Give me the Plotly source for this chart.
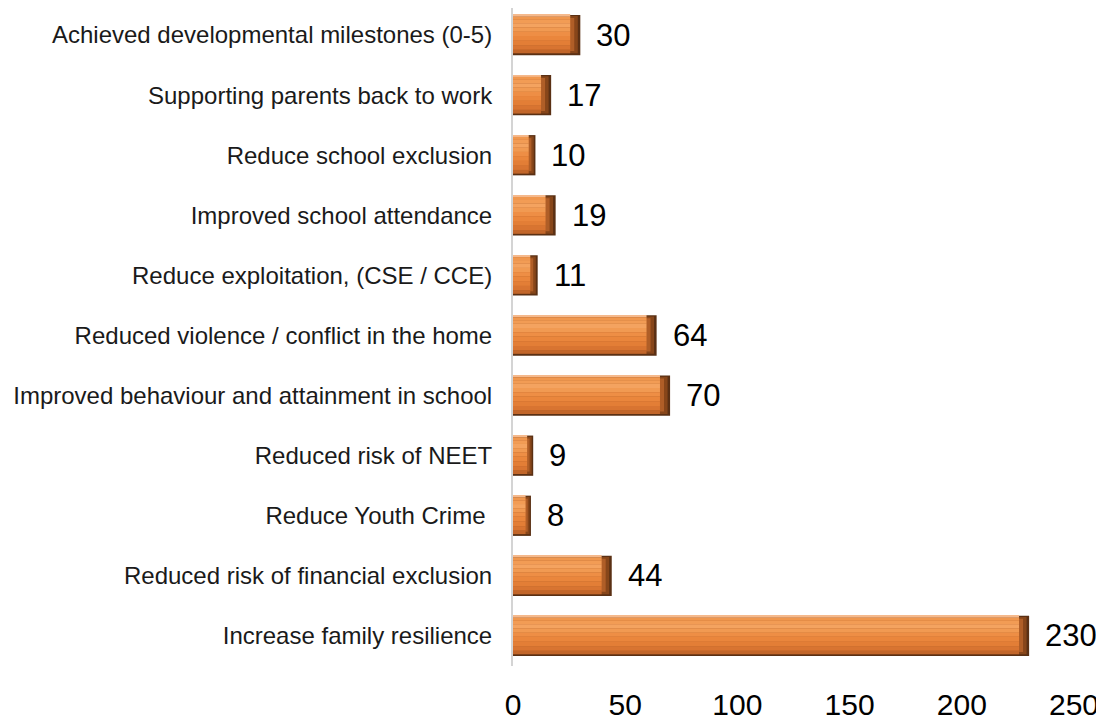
import plotly.graph_objects as go

categories = [
    "Achieved developmental milestones (0-5)",
    "Supporting parents back to work",
    "Reduce school exclusion",
    "Improved school attendance",
    "Reduce exploitation, (CSE / CCE)",
    "Reduced violence / conflict in the home",
    "Improved behaviour and attainment in school",
    "Reduced risk of NEET",
    "Reduce Youth Crime\u00a0",
    "Reduced risk of financial exclusion",
    "Increase family resilience",
]
values = [30, 17, 10, 19, 11, 64, 70, 9, 8, 44, 230]
x_ticks = [0, 50, 100, 150, 200, 250]

FONT = "Liberation Sans, Arial, sans-serif"

# bevel styling (thickness in category units, from the bar's top edge downward)
BAR_W = 0.67
TOP = -BAR_W / 2
bands = [  # (thickness, colour)
    (0.03, "#F5B98C"),
    (0.05, "#F0974E"),
    (0.06, "#F29C55"),
    (0.07, "#F4A360"),
    (0.07, "#F19A52"),
    (0.07, "#EE8E45"),
    (0.08, "#EA863C"),
    (0.08, "#E37E36"),
    (0.07, "#D87431"),
    (0.06, "#C2662A"),
]
inset = [min(4.5, v * 0.3) for v in values]

fig = go.Figure()
# darkest outline / bottom edge
fig.add_trace(go.Bar(y=categories, x=values, orientation="h", width=BAR_W, offset=TOP,
                     marker=dict(color="#5A3014", line=dict(width=0)), hoverinfo="skip"))
# right bevel, two tones
fig.add_trace(go.Bar(y=categories, x=[v - 0.25 * i for v, i in zip(values, inset)],
                     orientation="h", width=BAR_W - 0.05, offset=TOP + 0.02,
                     marker=dict(color="#87461A", line=dict(width=0)), hoverinfo="skip"))
fig.add_trace(go.Bar(y=categories, x=[v - 0.6 * i for v, i in zip(values, inset)],
                     orientation="h", width=BAR_W - 0.12, offset=TOP + 0.05,
                     marker=dict(color="#B05E27", line=dict(width=0)), hoverinfo="skip"))
# gradient bands of the body
off = TOP
for thick, col in bands:
    fig.add_trace(go.Bar(y=categories, x=[v - i for v, i in zip(values, inset)],
                         orientation="h", width=thick, offset=off,
                         marker=dict(color=col, line=dict(width=0)), hoverinfo="skip"))
    off += thick

for c, v in zip(categories, values):
    fig.add_annotation(x=v, y=c, text=str(v), showarrow=False, xanchor="left",
                       xshift=14, font=dict(family=FONT, size=31, color="#000000"))

fig.update_layout(
    width=1096, height=710,
    margin=dict(l=505, r=30, t=0, b=52),
    paper_bgcolor="white", plot_bgcolor="white",
    barmode="overlay", showlegend=False,
    font=dict(family=FONT, color="#000000"),
)
fig.update_xaxes(range=[0, 250], tickvals=x_ticks, ticktext=[str(t) for t in x_ticks],
                 showgrid=False, zeroline=False, showline=False, ticks="",
                 tickfont=dict(family=FONT, size=30, color="#000000"),
                 ticklabelstandoff=18, automargin=False)
fig.update_yaxes(range=[10.5, -0.45], showgrid=False, zeroline=False, showline=True,
                 linecolor="#D4D4D4", linewidth=2, ticks="",
                 tickfont=dict(family=FONT, size=24, color="#1a1a1a"),
                 ticklabelstandoff=14, automargin=False)

fig.write_html("out.html")
